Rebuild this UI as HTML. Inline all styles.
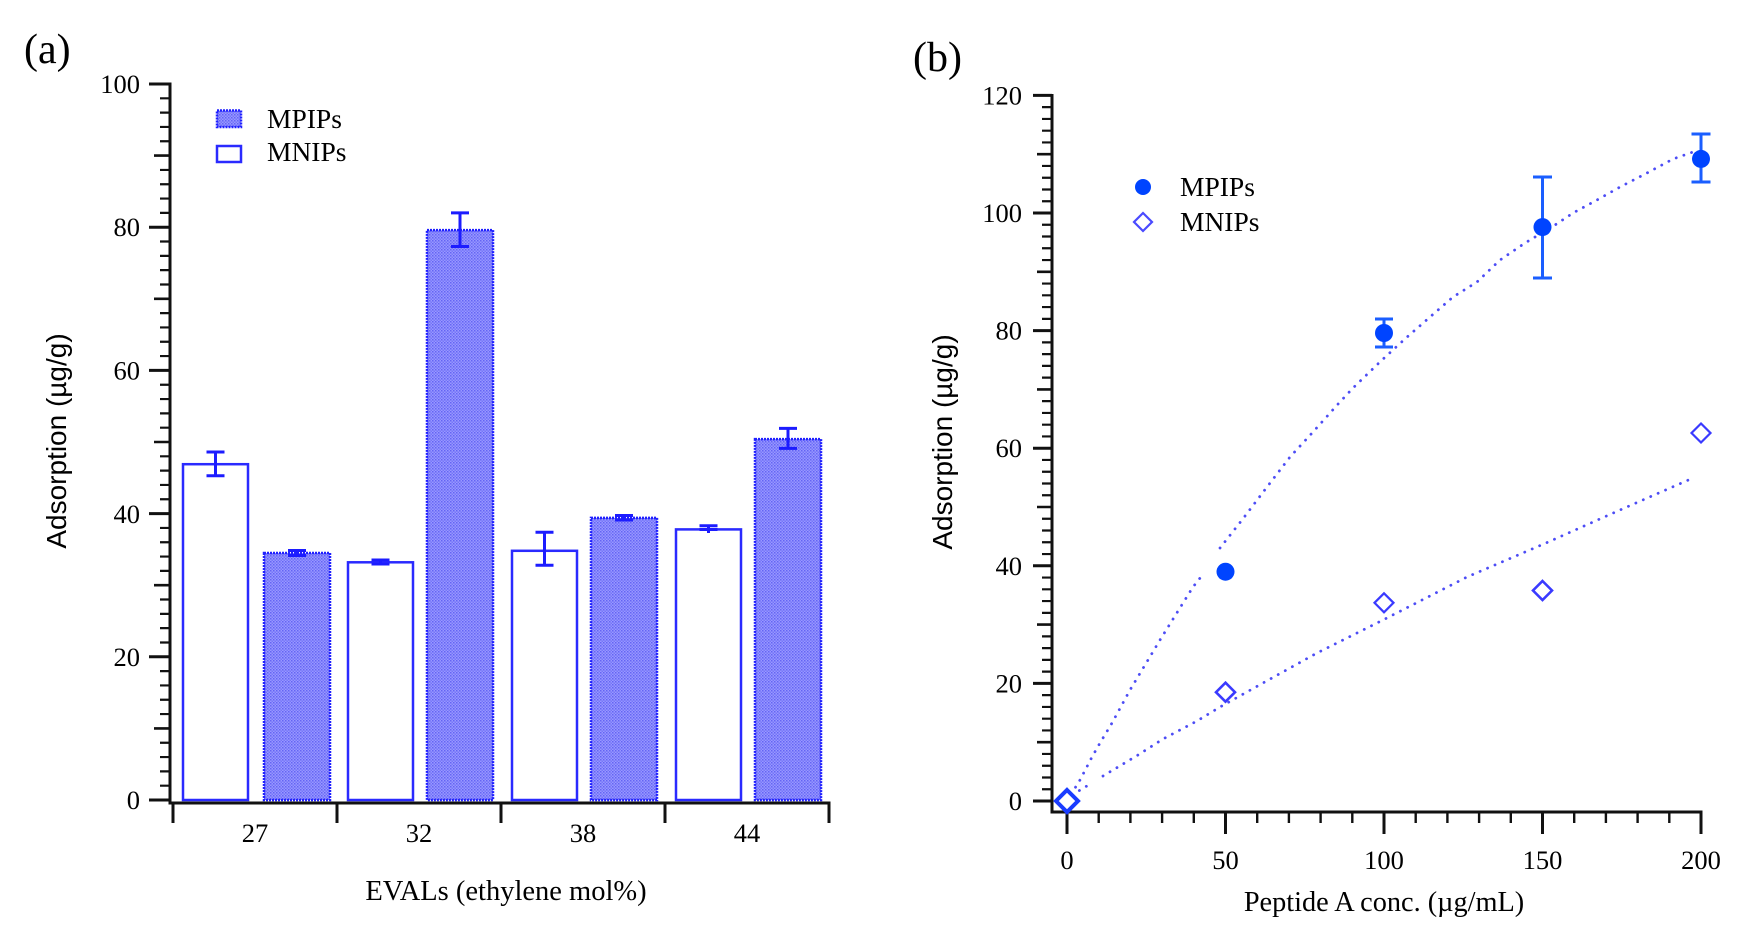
<!DOCTYPE html>
<html>
<head>
<meta charset="utf-8">
<style>
  html,body{margin:0;padding:0;background:#fff;}
  svg{display:block;}
  .serif{font-family:"Liberation Serif","Times New Roman",serif;fill:#000;}
  .sans{font-family:"Liberation Sans",Arial,sans-serif;fill:#000;}
</style>
</head>
<body>
<svg width="1748" height="936" viewBox="0 0 1748 936" xmlns="http://www.w3.org/2000/svg">
  <defs>
    <pattern id="hatch" width="3" height="3" patternUnits="userSpaceOnUse">
      <rect width="3" height="3" fill="#9898ff"/>
      <rect x="0" y="0" width="1.5" height="1.5" fill="#6464f4"/>
      <rect x="1.5" y="1.5" width="1.5" height="1.5" fill="#7676f8"/>
    </pattern>
  </defs>
  <rect width="1748" height="936" fill="#fff"/>

  <!-- ================= PANEL (a) ================= -->
  <text class="serif" x="24" y="63" font-size="42">(a)</text>

  <!-- y axis -->
  <line x1="170" y1="82.5" x2="170" y2="804.5" stroke="#111" stroke-width="3"/>
  <path d="M149 800H170M149 656.8H170M149 513.6H170M149 370.4H170M149 227.2H170M149 84H170" stroke="#111" stroke-width="3"/>
  <path d="M154 728.4H170M154 585.2H170M154 442H170M154 298.8H170M154 155.6H170" stroke="#111" stroke-width="2.6"/>
  <path d="M160 785.68H170M160 771.36H170M160 757.04H170M160 742.72H170M160 714.08H170M160 699.76H170M160 685.44H170M160 671.12H170
           M160 642.48H170M160 628.16H170M160 613.84H170M160 599.52H170M160 570.88H170M160 556.56H170M160 542.24H170M160 527.92H170
           M160 499.28H170M160 484.96H170M160 470.64H170M160 456.32H170M160 427.68H170M160 413.36H170M160 399.04H170M160 384.72H170
           M160 356.08H170M160 341.76H170M160 327.44H170M160 313.12H170M160 284.48H170M160 270.16H170M160 255.84H170M160 241.52H170
           M160 212.88H170M160 198.56H170M160 184.24H170M160 169.92H170M160 141.28H170M160 126.96H170M160 112.64H170M160 98.32H170"
        stroke="#111" stroke-width="2.2"/>
  <g class="serif" font-size="26.5" text-anchor="end">
    <text x="140" y="809">0</text>
    <text x="140" y="666">20</text>
    <text x="140" y="523">40</text>
    <text x="140" y="379.5">60</text>
    <text x="140" y="236">80</text>
    <text x="140" y="93">100</text>
  </g>
  <text class="sans" font-size="28" text-anchor="middle" transform="translate(66,441) rotate(-90)">Adsorption (µg/g)</text>

  <!-- x axis -->
  <line x1="168.5" y1="803" x2="830.5" y2="803" stroke="#111" stroke-width="3"/>
  <path d="M173 803V823M337 803V823M501 803V823M665 803V823M829 803V823" stroke="#111" stroke-width="3"/>
  <g class="serif" font-size="26.5" text-anchor="middle">
    <text x="255" y="842">27</text>
    <text x="419" y="842">32</text>
    <text x="583" y="842">38</text>
    <text x="747" y="842">44</text>
  </g>
  <text class="serif" x="506" y="900" font-size="28.5" text-anchor="middle">EVALs (ethylene mol%)</text>

  <!-- bars -->
  <g stroke-width="2.5">
    <rect x="183" y="464.2" width="65" height="335.8" fill="#fff" stroke="#2a2aff"/>
    <rect x="264" y="553" width="66" height="247" fill="url(#hatch)" stroke="#2020ff" stroke-dasharray="2 1"/>
    <rect x="348" y="562.3" width="65" height="237.7" fill="#fff" stroke="#2a2aff"/>
    <rect x="427" y="230.1" width="66" height="569.9" fill="url(#hatch)" stroke="#2020ff" stroke-dasharray="2 1"/>
    <rect x="512" y="550.8" width="65" height="249.2" fill="#fff" stroke="#2a2aff"/>
    <rect x="591" y="517.9" width="66" height="282.1" fill="url(#hatch)" stroke="#2020ff" stroke-dasharray="2 1"/>
    <rect x="676" y="529.4" width="65" height="270.6" fill="#fff" stroke="#2a2aff"/>
    <rect x="755" y="439.1" width="66" height="360.9" fill="url(#hatch)" stroke="#2020ff" stroke-dasharray="2 1"/>
  </g>

  <!-- error bars (a) -->
  <g stroke="#1c1cff" stroke-width="3" fill="none">
    <path d="M215.5 452V475.7M206.5 452H224.5M206.5 475.7H224.5"/>
    <path d="M297 550.5V555.5M288 550.5H306M288 555.5H306"/>
    <path d="M380.5 560V564.5M371.5 560H389.5M371.5 564H389.5"/>
    <path d="M460 212.9V246.5M451 212.9H469M451 246.5H469"/>
    <path d="M544.5 532.2V565.2M535.5 532.2H553.5M535.5 565.2H553.5"/>
    <path d="M624 515.5V520M615 515.5H633M615 520H633"/>
    <path d="M708.5 525.8V533M699.5 525.8H717.5M699.5 529.5H717.5"/>
    <path d="M788 428.4V448.4M779 428.4H797M779 448.4H797"/>
  </g>

  <!-- legend (a) -->
  <rect x="217" y="110.5" width="24" height="16.5" fill="url(#hatch)" stroke="#2020ff" stroke-width="2.5" stroke-dasharray="2 1"/>
  <rect x="217" y="146" width="24" height="16" fill="#fff" stroke="#2a2aff" stroke-width="2.5"/>
  <text class="serif" x="267" y="128" font-size="27.5">MPIPs</text>
  <text class="serif" x="267" y="161" font-size="27.5">MNIPs</text>

  <!-- ================= PANEL (b) ================= -->
  <text class="serif" x="913" y="71" font-size="42">(b)</text>

  <line x1="1052" y1="94" x2="1052" y2="813.5" stroke="#111" stroke-width="3"/>
  <path d="M1033 801H1052M1033 683.4H1052M1033 565.8H1052M1033 448.2H1052M1033 330.6H1052M1033 213H1052M1033 95.4H1052" stroke="#111" stroke-width="3"/>
  <path d="M1037 742.2H1052M1037 624.6H1052M1037 507H1052M1037 389.4H1052M1037 271.8H1052M1037 154.2H1052" stroke="#111" stroke-width="2.6"/>
  <path d="M1042 789.24H1052M1042 777.48H1052M1042 765.72H1052M1042 753.96H1052M1042 730.44H1052M1042 718.68H1052M1042 706.92H1052M1042 695.16H1052
           M1042 671.64H1052M1042 659.88H1052M1042 648.12H1052M1042 636.36H1052M1042 612.84H1052M1042 601.08H1052M1042 589.32H1052M1042 577.56H1052
           M1042 554.04H1052M1042 542.28H1052M1042 530.52H1052M1042 518.76H1052M1042 495.24H1052M1042 483.48H1052M1042 471.72H1052M1042 459.96H1052
           M1042 436.44H1052M1042 424.68H1052M1042 412.92H1052M1042 401.16H1052M1042 377.64H1052M1042 365.88H1052M1042 354.12H1052M1042 342.36H1052
           M1042 318.84H1052M1042 307.08H1052M1042 295.32H1052M1042 283.56H1052M1042 260.04H1052M1042 248.28H1052M1042 236.52H1052M1042 224.76H1052
           M1042 201.24H1052M1042 189.48H1052M1042 177.72H1052M1042 165.96H1052M1042 142.44H1052M1042 130.68H1052M1042 118.92H1052M1042 107.16H1052"
        stroke="#111" stroke-width="2.2"/>
  <g class="serif" font-size="26.5" text-anchor="end">
    <text x="1022" y="810">0</text>
    <text x="1022" y="692.5">20</text>
    <text x="1022" y="575">40</text>
    <text x="1022" y="457">60</text>
    <text x="1022" y="339.5">80</text>
    <text x="1022" y="222">100</text>
    <text x="1022" y="104.5">120</text>
  </g>
  <text class="sans" font-size="28" text-anchor="middle" transform="translate(952,442) rotate(-90)">Adsorption (µg/g)</text>

  <line x1="1050.5" y1="812" x2="1702.5" y2="812" stroke="#111" stroke-width="3"/>
  <path d="M1067 812V834M1225.5 812V834M1384 812V834M1542.5 812V834M1701 812V834" stroke="#111" stroke-width="3"/>
  <path d="M1098.7 812V823M1130.4 812V823M1162.1 812V823M1193.8 812V823M1257.2 812V823M1288.9 812V823M1320.6 812V823M1352.3 812V823
           M1415.7 812V823M1447.4 812V823M1479.1 812V823M1510.8 812V823M1574.2 812V823M1605.9 812V823M1637.6 812V823M1669.3 812V823"
        stroke="#111" stroke-width="2.4"/>
  <g class="serif" font-size="26.5" text-anchor="middle">
    <text x="1067" y="869">0</text>
    <text x="1225.5" y="869">50</text>
    <text x="1384" y="869">100</text>
    <text x="1542.5" y="869">150</text>
    <text x="1701" y="869">200</text>
  </g>
  <text class="serif" x="1384" y="911" font-size="28.3" text-anchor="middle">Peptide A conc. (µg/mL)</text>

  <!-- fit curves -->
  <g fill="none" stroke="#4d4df5" stroke-width="2.8" stroke-linecap="round" stroke-dasharray="0.1 8">
    <polyline points="1067,801 1080,780 1092,757 1100,743 1112,723 1130,690 1160,640 1193,587 1204,573"/>
    <polyline points="1220,548 1242,520 1267,487 1290,457 1313,432 1339,403 1353,388 1382,360 1406,338 1430,317 1453,297 1477,282 1500,260 1525,243 1555,225 1573,213 1597,200 1620,187 1647,173 1673,159 1693,152"/>
    <polyline points="1067,801 1080,790 1092,783"/>
    <polyline points="1103,776 1138,755 1163,739 1197,721 1220,707 1263,683 1317,653 1383,620 1467,577 1546,543 1620,510 1693,478"/>
  </g>

  <!-- error bars (b) -->
  <g stroke="#1a5eff" stroke-width="3" fill="none">
    <path d="M1384 319V347M1375 319H1393M1375 347H1393"/>
    <path d="M1542.5 177V278M1533 177H1552M1533 278H1552"/>
    <path d="M1701 134V182M1691.5 134H1710.5M1691.5 182H1710.5"/>
  </g>

  <g fill="#0044ff">
    <circle cx="1067" cy="801" r="8"/>
    <circle cx="1225.5" cy="571.7" r="9"/>
    <circle cx="1384" cy="333" r="9"/>
    <circle cx="1542.5" cy="227.1" r="9"/>
    <circle cx="1701" cy="158.9" r="9"/>
  </g>
  <g fill="#fff" stroke="#3a3aff" stroke-width="2.2">
    <path d="M1067 790L1078 801L1067 812L1056 801Z" stroke="#1a3cff" stroke-width="4"/>
    <path d="M1225.5 682.7L1235 692.2L1225.5 701.7L1216 692.2Z" stroke-width="2.6"/>
    <path d="M1384 593.3L1393.5 602.8L1384 612.3L1374.5 602.8Z"/>
    <path d="M1542.5 581L1552 590.5L1542.5 600L1533 590.5Z" stroke-width="2.6"/>
    <path d="M1701 423.5L1710.5 433L1701 442.5L1691.5 433Z"/>
  </g>

  <circle cx="1143" cy="187" r="8" fill="#0044ff"/>
  <path d="M1143 213L1152 222L1143 231L1134 222Z" fill="#fff" stroke="#4a4aff" stroke-width="2.2"/>
  <text class="serif" x="1180" y="196" font-size="27.5">MPIPs</text>
  <text class="serif" x="1180" y="231" font-size="27.5">MNIPs</text>
</svg>
</body>
</html>
